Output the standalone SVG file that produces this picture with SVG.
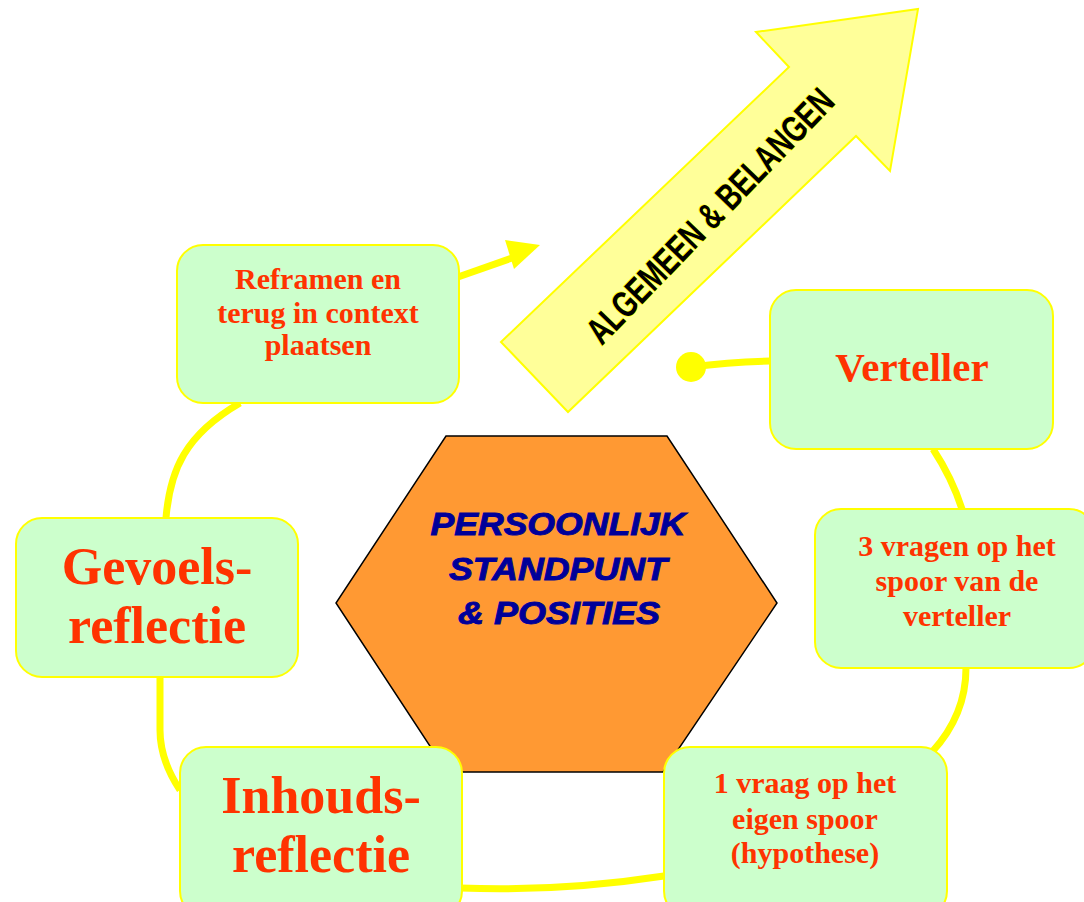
<svg xmlns="http://www.w3.org/2000/svg" width="1084" height="902" viewBox="0 0 1084 902">
  <style>
    .box { fill: #CCFFCC; stroke: #FFFF00; stroke-width: 2; }
    .link { fill: none; stroke: #FFFF00; stroke-width: 7; stroke-linecap: butt; }
    .lbl { font-family: "Liberation Serif", "Times New Roman", serif; font-weight: bold; fill: #FF3300; text-anchor: middle; }
    .s { font-size: 30px; }
    .m { font-size: 41px; }
    .l { font-size: 52px; }
    .hex { font-family: "Liberation Sans", Arial, sans-serif; font-weight: bold; font-style: italic; fill: #000099; stroke: #000099; stroke-width: 0.9; font-size: 31px; text-anchor: middle; }
  </style>
  <rect width="1084" height="902" fill="#FFFFFF"/>

  <!-- connectors -->
  <g id="connectors">
    <path class="link" d="M458,277 L512,258"/>
    <polygon points="540,245 505,240 514,269" fill="#FFFF00"/>
    <path class="link" d="M770,361 Q730,362 691,367"/>
    <circle cx="691" cy="367" r="15" fill="#FFFF00"/>
    <path class="link" d="M933,449 Q952,478 962,509"/>
    <path class="link" d="M966,668 Q966,715 932,752"/>
    <path class="link" d="M664,876 Q560,892 460,888"/>
    <path class="link" d="M180,790 Q160,760 160,730 L160,677"/>
    <path class="link" d="M166,518 C170,470 185,435 240,403"/>
  </g>

  <!-- big arrow -->
  <g id="arrow-algemeen">
    <polygon points="501,342 789,67 756,32 918,9 890,171 856,136 568,412" fill="#FFFF99" stroke="#FFFF00" stroke-width="2"/>
    <text x="0" y="0" transform="translate(712,218) rotate(-46)" font-family="'Liberation Sans', Arial, sans-serif" font-weight="bold" font-size="37" fill="#000000" stroke="#FFFF00" stroke-width="1.5" paint-order="stroke" text-anchor="middle" dominant-baseline="middle" textLength="338" lengthAdjust="spacingAndGlyphs">ALGEMEEN &amp; BELANGEN</text>
  </g>

  <!-- central hexagon -->
  <g id="persoonlijk">
    <polygon points="446,436 667,436 777,603 663,772 447,772 336,603" fill="#FF9933" stroke="#000000" stroke-width="1.5"/>
    <text class="hex" x="558" y="535" textLength="255" lengthAdjust="spacingAndGlyphs">PERSOONLIJK</text>
    <text class="hex" x="558" y="580" textLength="218" lengthAdjust="spacingAndGlyphs">STANDPUNT</text>
    <text class="hex" x="559" y="624" textLength="202" lengthAdjust="spacingAndGlyphs">&amp; POSITIES</text>
  </g>

  <g id="reframen">
    <rect class="box" x="177" y="245" width="282" height="158" rx="26"/>
    <text class="lbl s" x="318" y="289">Reframen en</text>
    <text class="lbl s" x="318" y="323">terug in context</text>
    <text class="lbl s" x="318" y="355">plaatsen</text>
  </g>

  <g id="verteller">
    <rect class="box" x="770" y="290" width="283" height="159" rx="26"/>
    <text class="lbl m" x="912" y="381">Verteller</text>
  </g>

  <g id="drie-vragen">
    <rect class="box" x="815" y="509" width="280" height="159" rx="26"/>
    <text class="lbl s" x="957" y="556">3 vragen op het</text>
    <text class="lbl s" x="957" y="591">spoor van de</text>
    <text class="lbl s" x="957" y="626">verteller</text>
  </g>

  <g id="een-vraag">
    <rect class="box" x="664" y="747" width="283" height="170" rx="26"/>
    <text class="lbl s" x="805" y="793">1 vraag op het</text>
    <text class="lbl s" x="805" y="829">eigen spoor</text>
    <text class="lbl s" x="805" y="863">(hypothese)</text>
  </g>

  <g id="inhoudsreflectie">
    <rect class="box" x="180" y="747" width="282" height="170" rx="26"/>
    <text class="lbl l" x="321" y="813">Inhouds-</text>
    <text class="lbl l" x="321" y="872">reflectie</text>
  </g>

  <g id="gevoelsreflectie">
    <rect class="box" x="16" y="518" width="282" height="159" rx="26"/>
    <text class="lbl l" x="157" y="584">Gevoels-</text>
    <text class="lbl l" x="157" y="643">reflectie</text>
  </g>
</svg>
